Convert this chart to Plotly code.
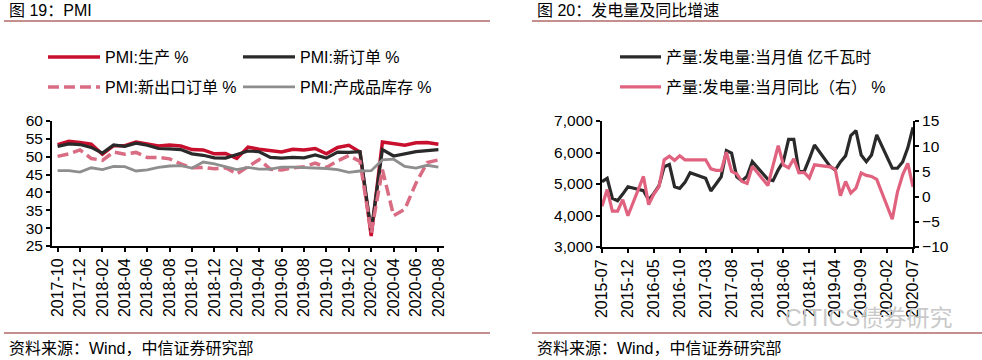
import plotly.graph_objects as go


def month_range(start_y, start_m, n):
    out = []
    y, m = start_y, start_m
    for _ in range(n):
        out.append(f"{y}-{m:02d}")
        m += 1
        if m > 12:
            m = 1
            y += 1
    return out


# ---------------- Left chart: PMI ----------------
pmi_months = month_range(2017, 10, 35)
pmi_production = [53.4, 54.3, 54.0, 53.5, 50.7, 53.1, 53.1, 54.1, 53.6, 53.0, 53.3, 53.0,
                  52.0, 51.9, 50.8, 50.9, 49.5, 52.7, 52.1, 51.7, 51.3, 52.1, 51.9, 52.3,
                  50.8, 52.6, 53.2, 51.3, 27.8, 54.1, 53.7, 53.2, 53.9, 54.0, 53.5]
pmi_new_orders = [52.9, 53.6, 53.4, 52.6, 51.0, 53.3, 52.9, 53.8, 53.2, 52.3, 52.2, 52.0,
                  50.8, 50.4, 49.7, 49.6, 50.6, 51.6, 51.4, 49.8, 49.6, 49.8, 49.7, 50.5,
                  49.6, 51.3, 51.2, 51.4, 29.3, 52.0, 50.2, 50.9, 51.4, 51.7, 52.0]
pmi_export_orders = [50.1, 50.8, 51.9, 49.5, 49.0, 51.3, 50.7, 51.2, 49.8, 49.8, 49.4, 48.0,
                     46.9, 47.0, 46.6, 46.9, 45.2, 47.1, 49.2, 46.5, 46.3, 46.9, 47.2, 48.2,
                     47.0, 48.8, 50.3, 48.7, 28.7, 46.4, 33.5, 35.3, 42.6, 48.4, 49.1]
pmi_inventory = [46.1, 46.1, 45.7, 46.9, 46.4, 47.3, 47.2, 46.0, 46.3, 47.0, 47.4, 47.5,
                 46.8, 48.5, 48.0, 47.1, 46.4, 47.0, 46.5, 46.5, 47.1, 47.1, 47.0, 46.7,
                 46.7, 46.4, 45.6, 46.0, 46.1, 49.1, 49.3, 47.3, 46.8, 47.6, 47.1]
pmi_tick_labels = pmi_months[::2]

# ---------------- Right chart: power generation ----------------
power_months = month_range(2015, 7, 61)
power_output = [5073, 5180, 4546, 4470, 4680, 4914,
                None, None, 4787, 4492, 4700, 4950, 5550, 5620, 4914, 4860, 5050, 5360,
                None, None, 5180, 4778, 5000, 5230, 6060, 5980, 5230, 5100, 5250, 5708,
                None, None, 5150, 5105, 5450, 5720, 6419, 6419, 5390, 5390, 5800, 6238,
                None, None, 5560, 5444, 5700, 5900, 6540, 6692, 5921, 5708, 5921, 6560,
                None, None, 5500, 5500, 5700, 6150, 6800]
power_yoy = [-1.9, 1.4, -2.9, -2.9, -0.6, -3.8,
             None, None, 4.0, -1.6, 0.5, 2.0, 7.3, 8.0, 7.2, 8.1, 7.3, 7.3,
             None, None, 7.3, 5.5, 5.2, 5.2, 8.8, 5.0, 4.5, 3.0, 2.6, 6.0,
             None, None, 2.2, 6.2, 10.1, 6.3, 5.7, 7.5, 4.7, 4.8, 3.7, 6.3,
             None, None, 5.9, 5.4, 0.2, 3.0, 0.7, 1.7, 4.7, 4.2, 4.0, 3.4,
             None, None, -4.5, 0.9, 4.3, 6.6, 1.9]
power_tick_labels = power_months[::5]

FONT = "Liberation Sans, Arial, Noto Sans CJK SC"
CJK_FONT = "Liberation Sans, Noto Sans CJK SC"
W, H = 982, 360
RED = "#C8102E"
BLACK = "#2A2A2A"
PINK_DASH = "#D96B82"
GRAY = "#8E8E8E"
PINK = "#E0627F"
RULE = "#8B1E1E"

fig = go.Figure()

fig.add_trace(go.Scatter(x=pmi_months, y=pmi_production, name="PMI:生产 %", mode="lines",
                         line=dict(color=RED, width=3.5), xaxis="x", yaxis="y", legend="legend"))
fig.add_trace(go.Scatter(x=pmi_months, y=pmi_new_orders, name="PMI:新订单 %", mode="lines",
                         line=dict(color=BLACK, width=3.2), xaxis="x", yaxis="y", legend="legend2"))
fig.add_trace(go.Scatter(x=pmi_months, y=pmi_export_orders, name="PMI:新出口订单 %", mode="lines",
                         line=dict(color=PINK_DASH, width=3.5, dash="11px,5px"),
                         xaxis="x", yaxis="y", legend="legend3"))
fig.add_trace(go.Scatter(x=pmi_months, y=pmi_inventory, name="PMI:产成品库存 %", mode="lines",
                         line=dict(color=GRAY, width=2.8), xaxis="x", yaxis="y", legend="legend4"))

fig.add_trace(go.Scatter(x=power_months, y=power_output, name="产量:发电量:当月值 亿千瓦时",
                         mode="lines", connectgaps=True, line=dict(color=BLACK, width=3.2),
                         xaxis="x2", yaxis="y2", legend="legend5"))
fig.add_trace(go.Scatter(x=power_months, y=power_yoy, name="产量:发电量:当月同比（右） %",
                         mode="lines", connectgaps=True, line=dict(color=PINK, width=3.2),
                         xaxis="x2", yaxis="y3", legend="legend6"))


def px_x(v):
    return v / W


def px_y(v):
    return 1 - v / H


axis_common = dict(showline=True, linecolor="black", linewidth=2, showgrid=False, zeroline=False,
                   ticks="outside", ticklen=4, tickwidth=1.5, tickcolor="black",
                   automargin=False)
ytick_font = dict(family=FONT, size=15.5, color="black")
xtick_font = dict(family=FONT, size=16, color="black")

legend_common = dict(orientation="v", bgcolor="rgba(0,0,0,0)", borderwidth=0,
                     font=dict(family=CJK_FONT, size=16, color="black"),
                     xanchor="left", yanchor="middle",
                     itemclick=False, itemdoubleclick=False)

fig.update_layout(
    width=W, height=H,
    margin=dict(l=0, r=0, t=0, b=0, autoexpand=False),
    paper_bgcolor="white", plot_bgcolor="white",
    font=dict(family=FONT, size=15, color="black"),
    showlegend=True,
    xaxis=dict(domain=[px_x(52), px_x(444)], type="category", range=[-0.5, 34.5],
               tickmode="array", tickvals=pmi_tick_labels, ticktext=pmi_tick_labels,
               tickangle=-90, anchor="y", tickfont=xtick_font, **axis_common),
    yaxis=dict(domain=[px_y(246), px_y(121)], range=[25, 60], dtick=5, anchor="x",
               tickfont=ytick_font, **axis_common),
    xaxis2=dict(domain=[px_x(602), px_x(913)], type="category", range=[0, 60],
                tickmode="array", tickvals=power_tick_labels, ticktext=power_tick_labels,
                tickangle=-90, anchor="y2", tickfont=xtick_font, **axis_common),
    yaxis2=dict(domain=[px_y(247), px_y(121)], range=[3000, 7000], dtick=1000,
                tickformat=",d", anchor="x2", tickfont=ytick_font, **axis_common),
    yaxis3=dict(domain=[px_y(247), px_y(121)], range=[-10, 15], dtick=5, overlaying="y2",
                side="right", anchor="x2", tickfont=ytick_font, **axis_common),
    legend=dict(x=px_x(43), y=px_y(57), itemwidth=52, **legend_common),
    legend2=dict(x=px_x(238), y=px_y(57), itemwidth=52, **legend_common),
    legend3=dict(x=px_x(43), y=px_y(87), itemwidth=52, **legend_common),
    legend4=dict(x=px_x(238), y=px_y(87), itemwidth=52, **legend_common),
    legend5=dict(x=px_x(615), y=px_y(57), itemwidth=41, **legend_common),
    legend6=dict(x=px_x(615), y=px_y(87), itemwidth=41, **legend_common),
)

# header and footer rules
for x0, x1 in [(4, 490), (532, 982)]:
    fig.add_shape(type="line", xref="paper", yref="paper", x0=px_x(x0), x1=px_x(x1),
                  y0=px_y(21), y1=px_y(21), line=dict(color=RULE, width=1))
    fig.add_shape(type="line", xref="paper", yref="paper", x0=px_x(x0), x1=px_x(x1),
                  y0=px_y(333), y1=px_y(333), line=dict(color=RULE, width=1))

texts = [
    ("图 19：PMI", 7, 10, 16, "black"),
    ("图 20：发电量及同比增速", 535, 10, 16, "black"),
    ("资料来源：Wind，中信证券研究部", 7, 348, 16, "black"),
    ("资料来源：Wind，中信证券研究部", 535, 348, 16, "black"),
    ("CITICS债券研究", 783, 318, 23, "#C9C9C9"),
]
for t, x, y, s, c in texts:
    fig.add_annotation(text=t, x=px_x(x), y=px_y(y), xref="paper", yref="paper",
                       xanchor="left", yanchor="middle", showarrow=False,
                       font=dict(family=CJK_FONT, size=s, color=c))

fig.write_html("out.html", config={"displayModeBar": False},
               post_script="document.body.style.margin='0';")
